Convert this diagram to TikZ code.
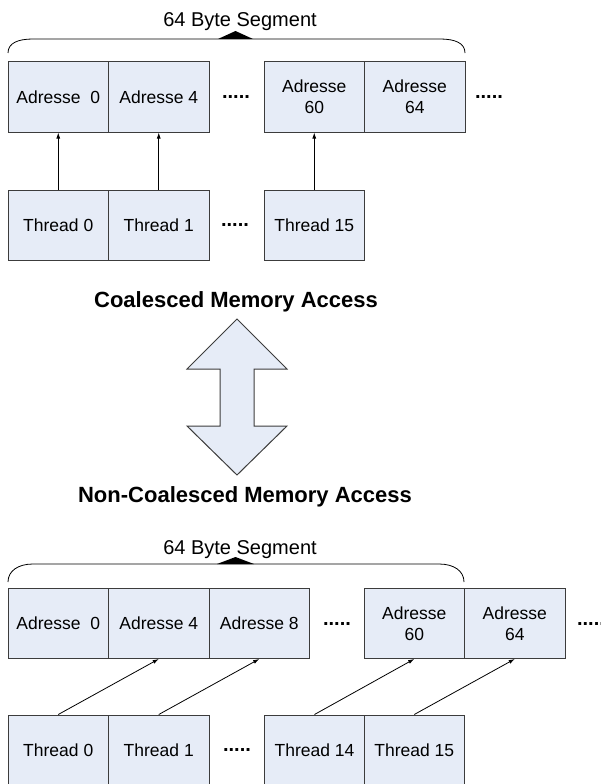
\documentclass[tikz,border=0pt]{standalone}
\usepackage{fontspec}
\setmainfont{Liberation Sans}
\usepackage{xcolor}
\usetikzlibrary{arrows.meta}
\definecolor{cellfill}{RGB}{230,236,247}
\definecolor{cellline}{RGB}{60,60,60}

\begin{document}
\begin{tikzpicture}[x=1pt,y=-1pt,
		cell/.style={draw=cellline,fill=cellfill,line width=1pt,minimum width=100.5pt,minimum height=70pt,inner sep=0pt,align=center,font=\fontsize{17.5}{21}\selectfont},
		link/.style={-{Latex[length=6pt,width=4pt]},line width=0.8pt},
		more/.style={anchor=base,inner sep=0pt,font=\bfseries\fontsize{20}{20}\selectfont},
		headline/.style={anchor=base,inner sep=0pt,font=\bfseries\fontsize{22}{22}\selectfont},
		seglabel/.style={anchor=base,inner sep=0pt,font=\fontsize{20}{20}\selectfont}]
				\useasboundingbox (0,0) rectangle (601,784);
				\node[seglabel] (seg) at (240,27) {64 Byte Segment};
				\draw[line width=0.8pt] (8,53) .. controls (8,43) and (18,39) .. (33,39) -- (440,39) .. controls (455,39) and (465,43) .. (465,53);
				\fill (218,39) -- (235.5,31) -- (253,39) -- cycle;
				\node[cell] (a0) at (58.25,97) {Adresse\ \ 0};
				\node[cell] (a4) at (158.75,97) {Adresse 4};
				\node[more] (ad) at (236,98) {.....};
				\node[cell] (a60) at (314.25,97) {Adresse\\60};
				\node[cell] (a64) at (414.75,97) {Adresse\\64};
				\node[more] (ae) at (489,98) {.....};
				\node[cell] (t0) at (58.25,225) {Thread 0};
				\node[cell] (t1) at (158.75,225) {Thread 1};
				\node[more] (td) at (235,226) {.....};
				\node[cell] (t15) at (314.25,225) {Thread 15};
				\draw[link] (t0.north) -- (a0.south);
				\draw[link] (t1.north) -- (a4.south);
				\draw[link] (t15.north) -- (a60.south);
				\node[headline] (co) at (236,307) {Coalesced Memory Access};
				\filldraw[fill=cellfill,draw=cellline,line width=1pt] (237,319) -- (287,369) -- (254,369) -- (254,426) -- (287,426) -- (237,475) -- (187,426) -- (220,426) -- (220,369) -- (187,369) -- cycle;
				\node[headline] (nco) at (245,502) {Non-Coalesced Memory Access};
				\node[seglabel] (seg2) at (240,554) {64 Byte Segment};
				\draw[line width=0.8pt] (8,582) .. controls (8,571) and (18,564) .. (33,564) -- (439,564) .. controls (454,564) and (464,571) .. (464,582);
				\fill (217,564) -- (235.5,557) -- (254,564) -- cycle;
				\node[cell] (b0) at (58.25,623.5) {Adresse\ \ 0};
				\node[cell] (b4) at (158.75,623.5) {Adresse 4};
				\node[cell] (b8) at (259.25,623.5) {Adresse 8};
				\node[more] (bd) at (337,625) {.....};
				\node[cell] (b60) at (414.25,623.5) {Adresse\\60};
				\node[cell] (b64) at (514.75,623.5) {Adresse\\64};
				\node[more] (be) at (591,625) {.....};
				\node[cell] (s0) at (58.25,750) {Thread 0};
				\node[cell] (s1) at (158.75,750) {Thread 1};
				\node[more] (sd) at (237,751) {.....};
				\node[cell] (s14) at (314.5,750) {Thread 14};
				\node[cell] (s15) at (414.25,750) {Thread 15};
				\draw[link] (s0.north) -- (b4.south);
				\draw[link] (s1.north) -- (b8.south);
				\draw[link] (s14.north) -- (b60.south);
				\draw[link] (s15.north) -- (b64.south);
			\end{tikzpicture}
\end{document}
